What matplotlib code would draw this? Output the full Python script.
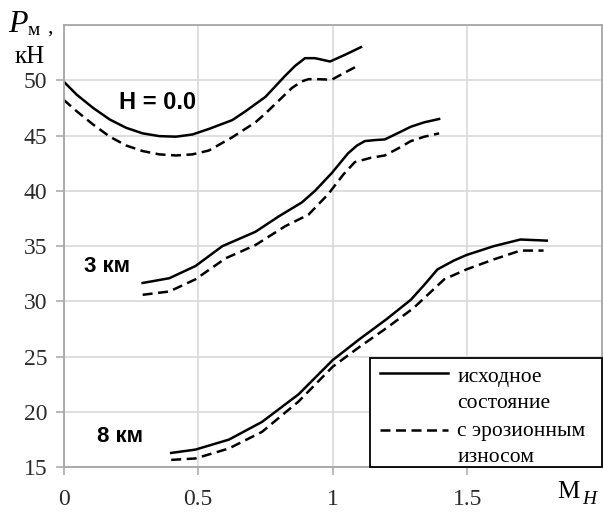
import matplotlib
matplotlib.use("Agg")
import matplotlib.pyplot as plt
from matplotlib.patches import Rectangle

# Данные (M_H, P_м, кН)
m_h0 = [0.0, 0.049, 0.11, 0.172, 0.233, 0.294, 0.356, 0.418, 0.479, 0.54, 0.627,
        0.676, 0.75, 0.823, 0.86, 0.897, 0.934, 0.99, 1.045, 1.105]
p_h0 = [49.9, 48.7, 47.5, 46.45, 45.7, 45.2, 44.95, 44.9, 45.1, 45.6, 46.4,
        47.2, 48.5, 50.4, 51.3, 52.0, 52.0, 51.7, 52.3, 53.0]
m_h0_er = [0.0, 0.049, 0.11, 0.172, 0.233, 0.294, 0.356, 0.418, 0.479, 0.54, 0.627,
           0.713, 0.75, 0.848, 0.885, 0.91, 0.946, 0.996, 1.045, 1.1]
p_h0_er = [48.25, 47.2, 46.0, 44.9, 44.1, 43.6, 43.3, 43.2, 43.3, 43.65, 44.85,
           46.2, 47.0, 49.3, 49.9, 50.1, 50.1, 50.05, 50.7, 51.4]

m_3 = [0.294, 0.393, 0.49, 0.54, 0.59, 0.713, 0.8, 0.885, 0.934, 0.996, 1.057,
       1.09, 1.119, 1.16, 1.193, 1.24, 1.29, 1.34, 1.395]
p_3 = [31.67, 32.1, 33.2, 34.1, 35.0, 36.3, 37.7, 38.95, 40.0, 41.6, 43.4,
       44.1, 44.5, 44.6, 44.65, 45.2, 45.8, 46.2, 46.5]
m_3_er = [0.294, 0.393, 0.49, 0.602, 0.713, 0.823, 0.91, 0.983, 1.04, 1.082,
          1.143, 1.193, 1.24, 1.29, 1.34, 1.395]
p_3_er = [30.6, 30.9, 32.0, 33.9, 35.1, 36.8, 37.85, 39.7, 41.5, 42.6,
          43.0, 43.2, 43.8, 44.5, 44.9, 45.2]

m_8 = [0.4, 0.49, 0.614, 0.737, 0.873, 1.0, 1.1, 1.2, 1.29, 1.34, 1.389,
       1.45, 1.497, 1.598, 1.697, 1.795]
p_8 = [16.3, 16.6, 17.5, 19.1, 21.6, 24.7, 26.6, 28.4, 30.15, 31.5, 32.9,
       33.7, 34.2, 35.0, 35.6, 35.5]
m_8_er = [0.4, 0.49, 0.614, 0.737, 0.873, 1.0, 1.1, 1.2, 1.3, 1.414,
          1.497, 1.598, 1.697, 1.783]
p_8_er = [15.67, 15.8, 16.7, 18.2, 20.95, 24.1, 25.9, 27.6, 29.4, 32.0,
          32.9, 33.8, 34.6, 34.6]

x_ticks = [0, 0.5, 1, 1.5]
x_tick_labels = ["0", "0.5", "1", "1.5"]
y_ticks = [15, 20, 25, 30, 35, 40, 45, 50]

serif = "Liberation Serif"
sans = "Liberation Sans"
lw = 1.8
dash = (0, (4, 2.2))

fig = plt.figure(figsize=(6.03, 5.13), dpi=100)
ax = fig.add_axes([63.5 / 603, 45.7 / 513, 538.5 / 603, 442.3 / 513])

curves = [(m_h0, p_h0, "-"), (m_h0_er, p_h0_er, dash),
          (m_3, p_3, "-"), (m_3_er, p_3_er, dash),
          (m_8, p_8, "-"), (m_8_er, p_8_er, dash)]
for xs, ys, ls in curves:
    ax.plot(xs, ys, color="black", lw=lw, linestyle=ls,
            solid_joinstyle="round", dash_joinstyle="round")

ax.set_xlim(0, 2)
ax.set_ylim(15, 55)
ax.set_xticks(x_ticks)
ax.set_xticklabels(x_tick_labels)
ax.set_yticks(y_ticks)
ax.set_yticks([55], minor=True)
ax.grid(True, color="#d9d9d9", lw=1.2)
ax.grid(True, which="minor", color="#d9d9d9", lw=1.2)
ax.set_axisbelow(True)
for s in ax.spines.values():
    s.set_color("#a6a6a6")
    s.set_linewidth(1.3)
ax.tick_params(axis="both", which="major", direction="out", length=5.5, width=1.1,
               color="#a6a6a6", labelsize=17, labelcolor="#2b2b2b")
ax.tick_params(axis="y", which="minor", length=0)
ax.tick_params(axis="y", pad=6)
ax.tick_params(axis="x", pad=10)
for lab in ax.get_xticklabels() + ax.get_yticklabels():
    lab.set_fontfamily(serif)

# подписи кривых
ax.text(0.35, 48.0, "H = 0.0", fontsize=17, fontweight="bold", family=sans,
        ha="center", va="center")
ax.text(0.16, 33.2, "3 км", fontsize=16, fontweight="bold", family=sans,
        ha="center", va="center")
ax.text(0.21, 17.75, "8 км", fontsize=16, fontweight="bold", family=sans,
        ha="center", va="center")

# легенда
ax.add_patch(Rectangle((0.569, 0.0), 0.431, 0.247, transform=ax.transAxes,
                       facecolor="white", edgecolor="black", lw=1.3, zorder=5,
                       clip_on=False))
ax.plot([0.588, 0.714], [0.213, 0.213], transform=ax.transAxes, color="black",
        lw=lw, zorder=6, clip_on=False)
ax.plot([0.588, 0.714], [0.084, 0.084], transform=ax.transAxes, color="black",
        lw=lw, linestyle=dash, zorder=6, clip_on=False)
leg_lines = ["исходное", "состояние", "с эрозионным", "износом"]
leg_y = [0.204, 0.145, 0.080, 0.023]
for t, yy in zip(leg_lines, leg_y):
    ax.text(0.731, yy, t, transform=ax.transAxes, fontsize=15.5, family=serif,
            ha="left", va="center", zorder=7)

# подписи осей
fig.text(8 / 603, 1 - 32 / 513, "P", fontsize=23, family=serif, style="italic",
         ha="left", va="baseline")
fig.text(28 / 603, 1 - 35 / 513, "м", fontsize=14, family=serif,
         ha="left", va="baseline")
fig.text(47 / 603, 1 - 33 / 513, ",", fontsize=16, family=serif,
         ha="left", va="baseline")
fig.text(15 / 603, 1 - 63 / 513, "кН", fontsize=18, family=serif,
         ha="left", va="baseline")
fig.text(557 / 603, 1 - 498 / 513, "M", fontsize=18, family=serif,
         ha="left", va="baseline")
fig.text(582 / 603, 1 - 504 / 513, "H", fontsize=14, family=serif, style="italic",
         ha="left", va="baseline")

fig.savefig("out.png", dpi=100)
